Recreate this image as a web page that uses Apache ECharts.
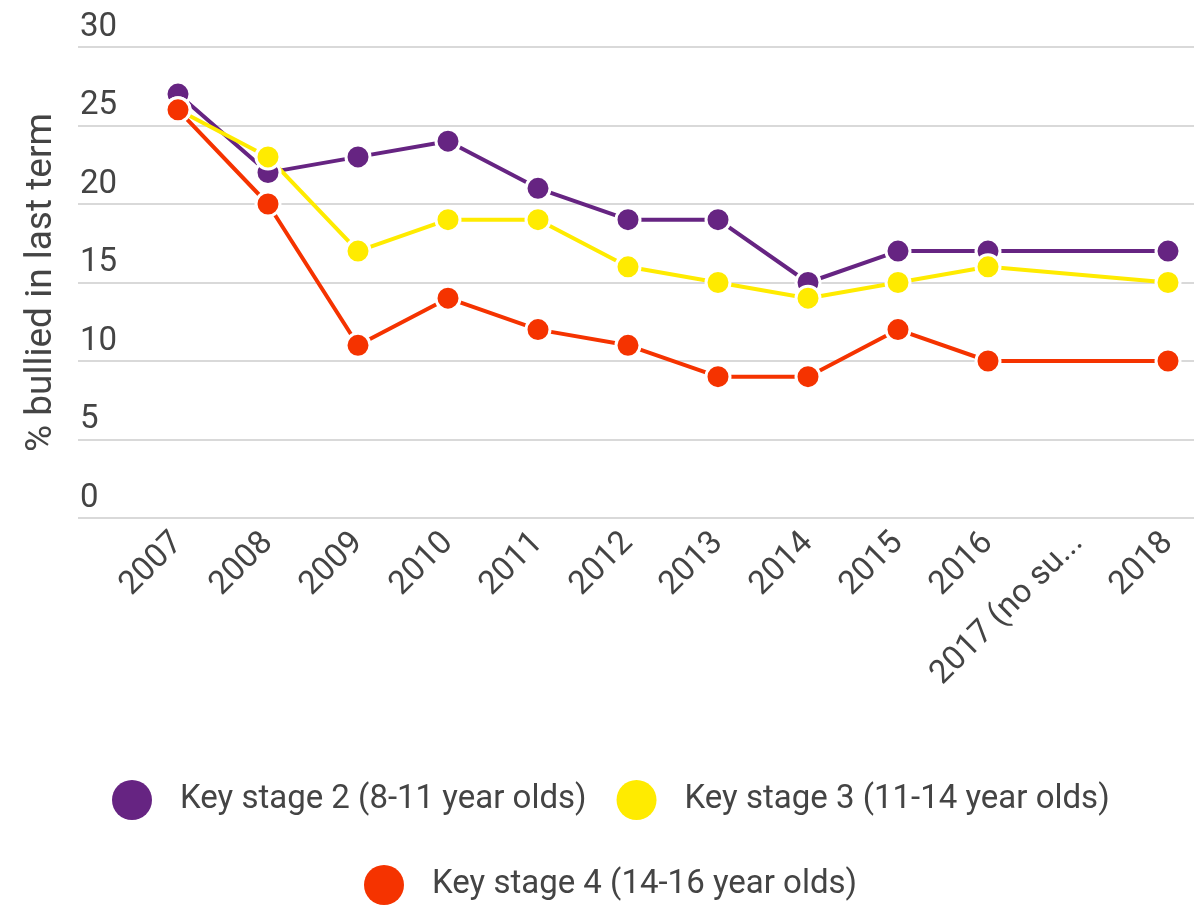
<!DOCTYPE html>
<html>
<head>
<meta charset="utf-8">
<title>% bullied in last term</title>
<script src="https://cdn.jsdelivr.net/npm/echarts@6/dist/echarts.min.js"></script>
<style>
  html, body { margin: 0; padding: 0; background: #fff; }
  #chart { width: 1194px; height: 910px; }
</style>
</head>
<body>
<div id="chart"></div>
<script>
// Survey years (no survey was run in 2017)
const years = ['2007', '2008', '2009', '2010', '2011', '2012', '2013', '2014', '2015', '2016', '2017 (no survey)', '2018'];

// Percentage of pupils bullied in the last term, by key stage
const ks2 = [27, 22, 23, 24, 21, 19, 19, 15, 17, 17, null, 17];
const ks3 = [26, 23, 17, 19, 19, 16, 15, 14, 15, 16, null, 15];
const ks4 = [26, 20, 11, 14, 12, 11, 9, 9, 12, 10, null, 10];

const seriesNames = ['Key stage 2 (8-11 year olds)', 'Key stage 3 (11-14 year olds)', 'Key stage 4 (14-16 year olds)'];
const colors = ['#662482', '#ffeb00', '#f53300'];

const textColor = '#444';
const fontFamily = 'Roboto, "Noto Sans", sans-serif';
const fontSize = 33;

const chart = echarts.init(document.getElementById('chart'));

function lineSeries(name, data, color) {
  return {
    name: name,
    type: 'line',
    xAxisIndex: 1,
    yAxisIndex: 1,
    data: data,
    connectNulls: true,
    symbol: 'circle',
    symbolSize: 24,
    lineStyle: { color: color, width: 4 },
    itemStyle: { color: color, borderColor: '#fff', borderWidth: 3 },
    emphasis: { disabled: true },
    animation: false
  };
}

const legendCommon = {
  icon: 'circle',
  itemWidth: 40,
  itemHeight: 40,
  itemGap: 30,
  padding: 0,
  itemStyle: { borderWidth: 0 },
  textStyle: { color: textColor, fontSize: fontSize, fontFamily: fontFamily, padding: [0, 0, 0, 23] }
};

chart.setOption({
  backgroundColor: '#fff',
  animation: false,
  textStyle: { fontFamily: fontFamily },
  legend: [
    Object.assign({}, legendCommon, { left: 112, top: 780, data: [seriesNames[0], seriesNames[1]] }),
    Object.assign({}, legendCommon, { left: 364, top: 865, data: [seriesNames[2]] })
  ],
  grid: [
    // full-width grid carrying the horizontal gridlines and value labels
    { left: 78, right: 0, top: 47, bottom: 392 },
    // plotting grid for the series
    { left: 178, right: 26, top: 47, bottom: 392 }
  ],
  xAxis: [
    { type: 'category', gridIndex: 0, data: years, show: false },
    {
      type: 'category',
      gridIndex: 1,
      data: years,
      boundaryGap: false,
      axisLine: { show: false },
      axisTick: { show: false },
      axisLabel: {
        rotate: 45,
        interval: 0,
        margin: 20,
        color: textColor,
        fontSize: fontSize,
        fontFamily: fontFamily,
        width: 208,
        overflow: 'truncate'
      }
    }
  ],
  yAxis: [
    {
      type: 'value',
      gridIndex: 0,
      min: 0,
      max: 30,
      interval: 5,
      name: '% bullied in last term',
      nameLocation: 'middle',
      nameGap: 18,
      nameTextStyle: { color: textColor, fontSize: 37, fontFamily: fontFamily },
      axisLine: { show: false },
      axisTick: { show: false },
      axisLabel: {
        inside: true,
        margin: 2,
        align: 'left',
        verticalAlign: 'bottom',
        padding: [0, 0, 3, 0],
        color: textColor,
        fontSize: fontSize,
        fontFamily: fontFamily
      },
      splitLine: { lineStyle: { color: '#d9d9d9', width: 2 } }
    },
    {
      type: 'value',
      gridIndex: 1,
      min: 0,
      max: 30,
      interval: 5,
      show: false,
      splitLine: { show: false }
    }
  ],
  series: [
    lineSeries(seriesNames[0], ks2, colors[0]),
    lineSeries(seriesNames[1], ks3, colors[1]),
    lineSeries(seriesNames[2], ks4, colors[2])
  ]
});
</script>
</body>
</html>
